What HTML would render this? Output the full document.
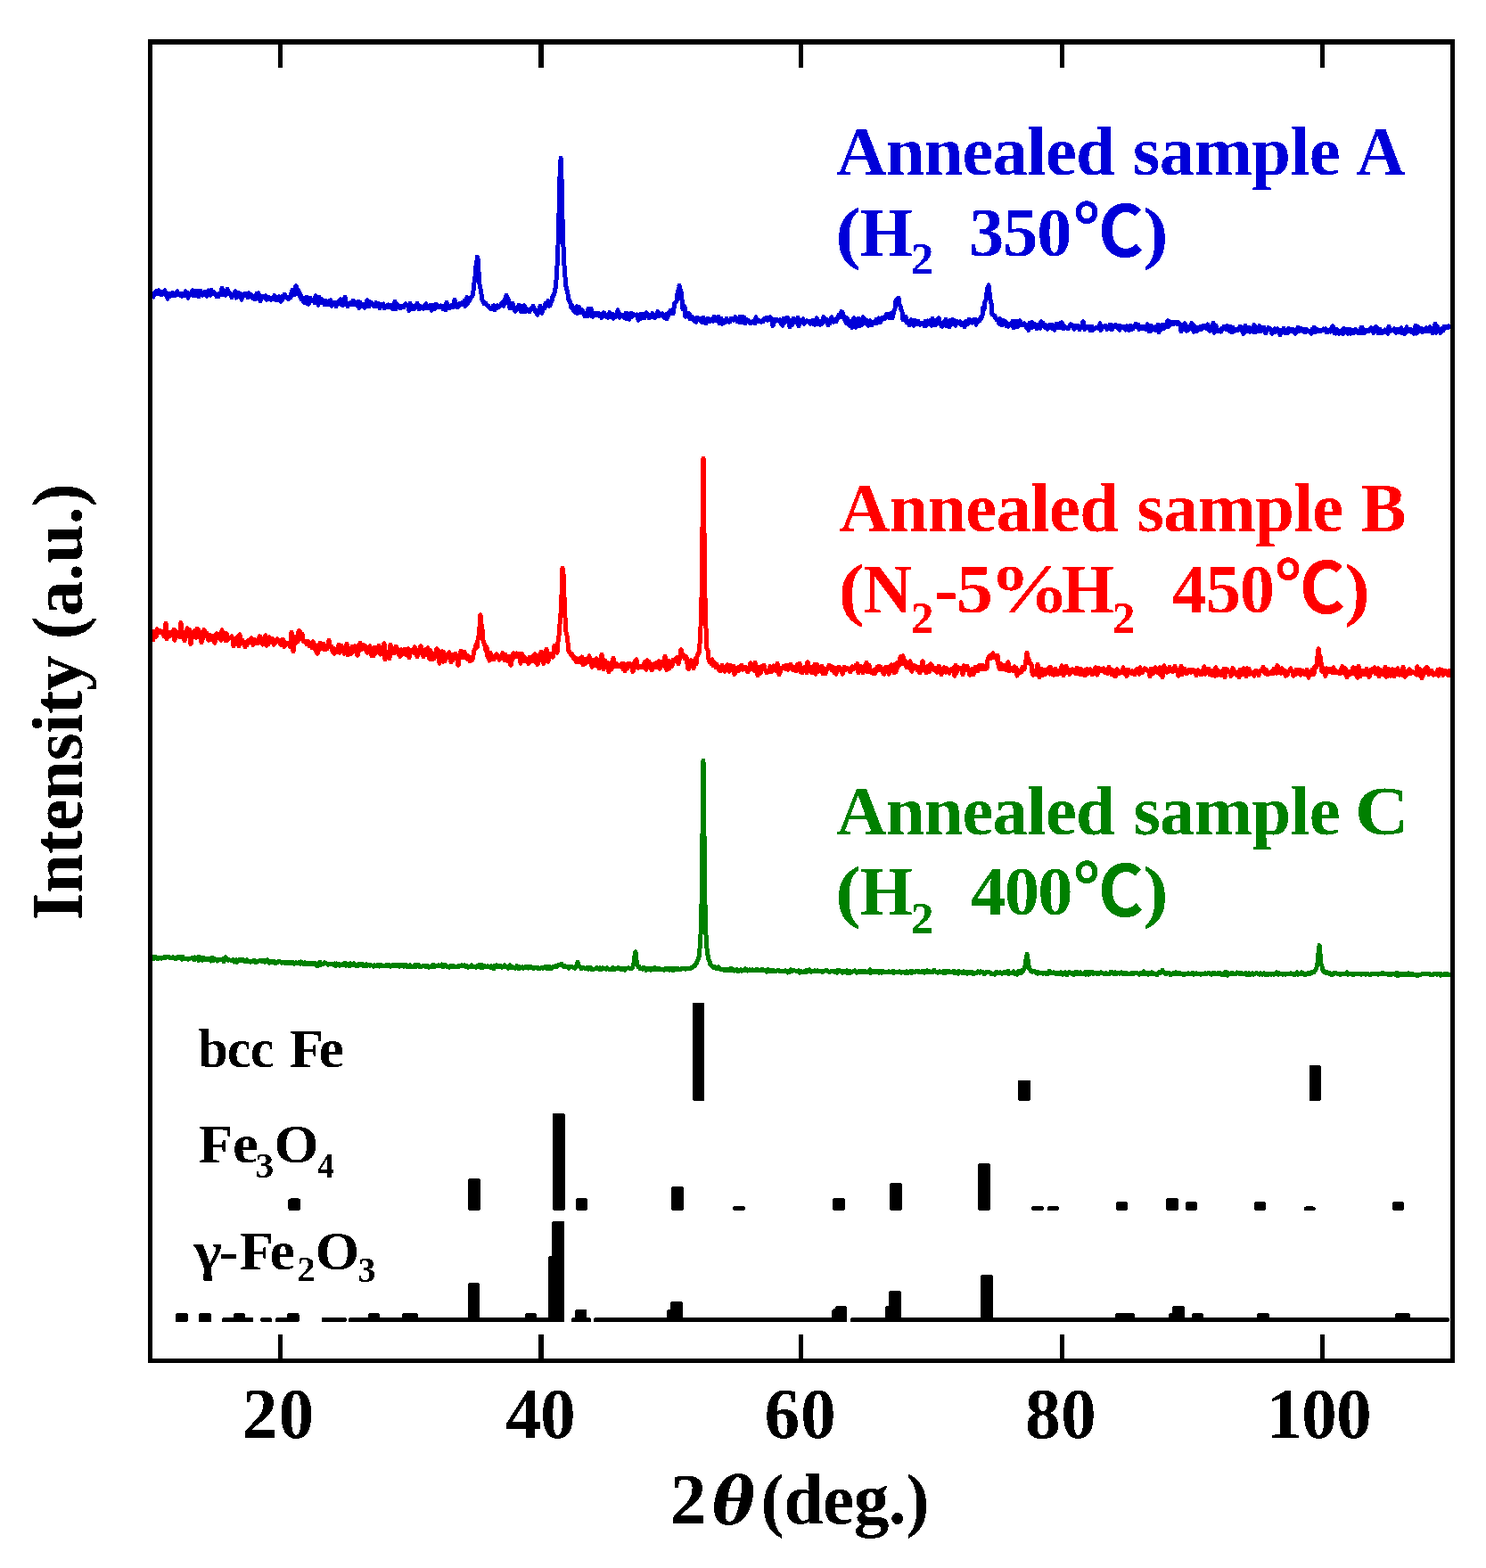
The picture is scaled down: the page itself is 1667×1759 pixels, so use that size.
<!DOCTYPE html>
<html lang="en"><head><meta charset="utf-8"><title>XRD patterns of annealed samples</title>
<style>html,body{margin:0;padding:0;background:#fff}svg{display:block}text{font-family:"Liberation Serif","Noto Sans CJK JP",serif;font-weight:bold}.th{font-family:"DejaVu Serif",serif;font-style:italic}.c{fill:none;stroke-width:5;stroke-linejoin:round;shape-rendering:crispEdges}</style></head><body>
<svg width="1667" height="1759" viewBox="0 0 1667 1759">
<defs><filter id="bw" filterUnits="userSpaceOnUse" x="0" y="0" width="1667" height="1759" color-interpolation-filters="sRGB"><feComponentTransfer><feFuncA type="discrete" tableValues="0 1"/></feComponentTransfer></filter></defs>
<rect width="1667" height="1759" fill="#fff"/>
<path class="c" d="M171.0,332.6l1,0.4l1,-3.4l1,-2l1,-0.7l1,2.6l1,-2.5l1,-1l1,3.9l1,-0.1l1,1l1,-3.5l1,2.2l1,-0.2l1,-3.4l1,4.9l1,-0.6l1,5l1,-5.2l1,-0.9l1,3.3l1,-2.5l1,1.7l1,-3l1,1.4l1,1.9l1,-0.8l1,-1.3l1,-2.9l1,3.6l1,-0.9l1,1.6l1,-1.2l1,2.1l1,-2.8l1,0.6l1,1.2l1,-4.2l1,1.6l1,-0.2l1,5.9l1,-5l1,1.8l1,-0.1l1,-2.1l1,-3.1l1,6.1l1,-3.3l1,2.7l1,-4.9l1,2.1l1,4.1l1,0.4l1,-6.6l1,0l1,3l1,1.9l1,-1.4l1,0.4l1,-3.1l1,3.8l1,1.2l1,-3.7l1,-2.4l1,1.6l1,3.7l1,-6l1,3.9l1,-2.1l1,2l1,-0.2l1,0.6l1,3.5l1,-2.6l1,2.3l1,-3.4l1,-0.8l1,2.2l1,-7.6l1,6.7l1,0.6l1,-3.3l1,4.2l1,-2.4l1,-4.5l1,5.5l1,-1.8l1,1.2l1,1l1,3.4l1,-2.7l1,-0.2l1,1.1l1,-5.2l1,7.4l1,-5.5l1,3.7l1,-3.7l1,0.5l1,1.4l1,5.6l1,-2.8l1,-3l1,0.8l1,-2l1,2.8l1,-1.2l1,3.1l1,-4.9l1,2.6l1,-1.2l1,0.4l1,3.5l1,-1.3l1,1.1l1,1.6l1,-0.1l1,-5.9l1,4.6l1,-5.4l1,4.1l1,4.8l1,-4.9l1,-0.4l1,1.4l1,-0.3l1,0.1l1,-1.8l1,4.4l1,-0.4l1,-2.5l1,1.3l1,0.8l1,1l1,-1.5l1,0.8l1,-2.3l1,-1.9l1,1.4l1,3.7l1,-0.1l1,-2l1,-1.7l1,2.1l1,3.2l1,-0.7l1,-4.9l1,1.4l1,-3.5l1,0.6l1,3l1,-0.7l1,1.9l1,0.2l1,-1.7l1,0.2l1,-5.6l1,-2.9l1,2.1l1,3.5l1,-6.7l1,-3.6l1,4.4l1,4.6l1,-3.9l1,6.1l1,-2l1,5.6l1,-0.3l1,-0.5l1,4.6l1,-5.3l1,-0.3l1,6.4l1,-6.2l1,7.5l1,-5.1l1,-2.2l1,2.6l1,0.5l1,0.3l1,-0.8l1,3.2l1,-8l1,4.3l1,0.8l1,5.1l1,-9l1,4l1,-1.8l1,1.3l1,3.2l1,-0.5l1,2.5l1,-4.7l1,2.1l1,2.3l1,-0.6l1,-2.9l1,3.6l1,-4.8l1,6.6l1,-3.9l1,-0.5l1,1l1,1.4l1,2.2l1,-4.4l1,-0.5l1,2.3l1,-3.4l1,-1.9l1,6l1,-2.8l1,3.6l1,-5l1,-4.4l1,7.6l1,-0.3l1,3.5l1,-2.5l1,-0.5l1,0.7l1,-2.2l1,1.1l1,-3.3l1,4.5l1,-3.1l1,0.9l1,2.7l1,0.6l1,-4.5l1,7.2l1,-6.2l1,3.5l1,0.3l1,-1.7l1,-0.1l1,4l1,-2.2l1,-1l1,-5.3l1,2.6l1,4.6l1,-2.3l1,-2.7l1,0.8l1,0.9l1,2.4l1,-0.7l1,1.5l1,-4.3l1,4.4l1,-3.5l1,0.5l1,4.9l1,-3.9l1,-0.5l1,-0.1l1,-0.4l1,4.7l1,-0.4l1,-1.5l1,-1.3l1,2.1l1,-2.6l1,1.3l1,-0.1l1,-0.7l1,3.8l1,0.3l1,-1l1,-7.6l1,8.9l1,-2.6l1,-2.7l1,1l1,2.8l1,0.2l1,-0.8l1,-1.6l1,-0.2l1,1.9l1,-2.1l1,-1.9l1,0.7l1,1.2l1,1.1l1,4.7l1,-8.6l1,4.4l1,-1.3l1,1l1,2.5l1,-0.2l1,-3.3l1,-0.9l1,-1.9l1,3.1l1,3.2l1,-3.6l1,2.4l1,0l1,-0.7l1,1.6l1,-2.8l1,-1.7l1,-0.8l1,5l1,-3l1,0.1l1,2.7l1,-3.8l1,6.1l1,-2.7l1,-2.8l1,-0.2l1,4.1l1,-5.4l1,1.3l1,1.5l1,0.5l1,-0.5l1,0.9l1,-1.8l1,0.6l1,3.2l1,-1.4l1,-2.7l1,5.1l1,-8.8l1,4.9l1,1.3l1,0.7l1,-2.1l1,-1.2l1,2.2l1,-2l1,1.5l1,-8.1l1,7.5l1,-3l1,3.9l1,-0.7l1,-0.4l1,-3.1l1,1.6l1,-2.3l1,0.8l1,-1.2l1,-2.2l1,6.4l1,-3.2l1,-6.8l1,6.8l1,-5.8l1,2.1l1,-1.9l1,-1.6l1,-1l1,-5.7l1,-9.5l1,-6.9l1,-12.1l1,-5.3l0.2,-4.5l0.8,1.8l1,14.7l1,14.6l1,4.9l1,6l1,6.7l1,1.2l1,2.4l1,-0.7l1,0.5l1,2l1,1l1,0.1l1,2.2l1,0.6l1,0.2l1,0.1l1,-3.1l1,-0.4l1,4.7l1,-1.8l1,0.2l1,-3.2l1,2.1l1,-1.2l1,-0.9l1,0l1,-2.9l1,2.5l1,0.7l1,-6.9l1,-0.8l1,-4.1l0,2.5l1,5.8l1,-4.6l1,4.9l1,5.8l1,-1.3l1,0.3l1,-4.5l1,4.9l1,2.8l1,1.5l1,-1.8l1,-2.7l1,-0.2l1,-2.6l1,1.8l1,5.2l1,-2.9l1,-2.9l1,6.3l1,-7l1,7l1,-3.7l1,1.6l1,0.8l1,-0.9l1,2.4l1,-2.9l1,-0.8l1,-0.8l1,-1.9l1,1.8l1,3.9l1,-0.4l1,1.3l1,3.1l1,-4.9l1,-0.6l1,-4.4l1,2.3l1,5.6l1,-4.2l1,-1.9l1,0.7l1,-5.7l1,2l1,-1.8l1,-2.7l1,5.9l1,-0.8l1,-4.2l1,-0.7l1,-5.7l1,0.1l1,-3.8l1,-4.6l1,-9.2l1,-16.5l1,-23.3l1,-35l1,-41.2l1,-19.8l0,-1.4l1,22.9l1,45.8l1,31.1l1,20.5l1,13.7l1,10l1,4.1l1,4.7l1,6.6l1,0.5l1,2.9l1,5.2l1,-2l1,4.7l1,-2.1l1,4.4l1,-1.8l1,-4.6l1,7.6l1,-2.9l1,-3.7l1,5.2l1,0.5l1,-3.1l1,1.9l1,3l1,2.3l1,-0.4l1,0.4l1,0l1,-8.4l1,4.4l1,2.3l1,-6.6l1,8.3l1,0.4l1,-3.7l1,1l1,-1.1l1,2.3l1,0l1,0.3l1,-2.3l1,3.4l1,-1.7l1,3.1l1,-1.5l1,-4.1l1,0.1l1,3.6l1,-1.3l1,2.3l1,0.9l1,-1.8l1,-4l1,1.2l1,4.2l1,-3.8l1,5.1l1,-2.8l1,1.5l1,-3.3l1,1.9l1,-6.7l1,6.5l1,1.9l1,-3.5l1,0.2l1,1.9l1,0.3l1,-2.1l1,3.5l1,-5.4l1,6.5l1,-5.9l1,1.4l1,5.1l1,-5.5l1,-1.5l1,4.1l1,-2.3l1,-0.5l1,1l1,-0.1l1,-0.5l1,-0.1l1,6.2l1,-5.3l1,3.9l1,-5.6l1,4.6l1,-4.2l1,1.8l1,2.6l1,-2.7l1,-3.4l1,3.3l1,1l1,1.7l1,-3.7l1,1.6l1,0.8l1,-4l1,3.6l1,-1.7l1,3l1,-1.4l1,-0.1l1,-5.4l1,5.4l1,-0.7l1,-1.4l1,0.9l1,-1.9l1,3.3l1,1l1,-0.4l1,-2.8l1,4.9l1,-2.3l1,-4.7l1,1.5l1,-4.1l1,2.7l1,0.9l1,-0.2l1,-6l1,-6l1,-0.1l1,-1.6l1,-9l1,-3l1,-3.4l0,-2l1,4l1,3l1,9l1,10.3l1,-3l1,-0.1l1,11.6l1,-2.3l1,-1.1l1,1.1l1,-1.4l1,6l1,-0.7l1,-1.5l1,0.8l1,0.3l1,3.7l1,-2.7l1,3.8l1,-5.1l1,0.7l1,0.4l1,0l1,1.1l1,2.7l1,0.5l1,-5.3l1,5.6l1,-2.7l1,3.5l1,-4l1,-1.6l1,3.9l1,-0.3l1,-2.5l1,1.1l1,0.3l1,0.5l1,-4.8l1,1.3l1,2.9l1,0.5l1,-1.8l1,-2.8l1,7.3l1,-3.9l1,-1.7l1,6.2l1,-1l1,-0.2l1,-0.5l1,-0.6l1,-3.6l1,2.4l1,0.7l1,0.7l1,-0.3l1,-3.5l1,1l1,0.6l1,0.4l1,-1.6l1,-2.2l1,1.4l1,3.6l1,-0.7l1,1.4l1,-5.8l1,3.5l1,3l1,-6.6l1,2l1,-1.3l1,6.7l1,-2.7l1,-1.4l1,1.7l1,-0.6l1,2.4l1,0.6l1,-0.6l1,-1.3l1,1l1,0.1l1,0.9l1,-7l1,5.1l1,-0.6l1,0.2l1,-1l1,0.4l1,1.4l1,-0.7l1,-0.1l1,-2.8l1,-0.5l1,1.2l1,-2.4l1,3l1,-0.8l1,-2.2l1,-0.3l1,3.5l1,-0.3l1,6.5l1,-3.1l1,-3.8l1,0.7l1,-1.2l1,0.5l1,1.1l1,0.7l1,-1.4l1,3.4l1,-0.4l1,3.1l1,-7.6l1,4.7l1,-2.5l1,-2.9l1,3.1l1,-3.1l1,3.8l1,6.4l1,-3.3l1,1.2l1,-1.4l1,-6.4l1,4.6l1,-0.6l1,0.6l1,-3.4l1,-2.2l1,9.6l1,-2.1l1,-2.1l1,-1.9l1,1.6l1,-3.3l1,5.2l1,-1.8l1,-0.7l1,-0.7l1,0.9l1,0.5l1,-1.2l1,3.2l1,-1.8l1,-0.7l1,-1.7l1,4.9l1,0.2l1,-1.4l1,-6l1,3.6l1,3.1l1,-2.2l1,2.9l1,-4l1,2.9l1,-0.7l1,-6.9l1,4.8l1,0.3l1,-0.9l1,-0.7l1,5.8l1,-4l1,2l1,-5.1l1,-1.8l1,3.5l1,1.8l1,-2.9l1,2.5l1,0l1,-3.9l1,-0.3l1,-3.3l1,2.2l1,-0.2l0.8,-4.6l0.2,-1.2l1,0.8l1,3l1,4.7l1,-2.3l1,6.4l1,-5.5l1,3.4l1,3.6l1,1.4l1,-4.9l1,3l1,4.3l1,-3.1l1,-7.7l1,5.9l1,4.9l1,-8.2l1,4.9l1,-6.9l1,8.6l1,-5.6l1,3.9l1,0.2l1,-8.6l1,3.2l1,4.1l1,-4.4l1,3.5l1,-2.2l1,5.3l1,-4.4l1,-1l1,3.6l1,1.2l1,-3.3l1,0.9l1,0.4l1,-2.5l1,-1.8l1,3.8l1,-2.4l1,-2.7l1,4.8l1,-1.5l1,-1.3l1,-2.8l1,0.5l1,1l1,-1.1l1,-3.7l1,-0.6l1,2.8l1,-0.3l1,1.7l1,-4.7l1,4.2l1,0.8l1,-3.9l1,-4.8l1,-1.8l1,-9.1l1,-1.3l1,4.4l0.1,-4.8l0.9,-1.4l1,8l1,0.9l1,4.4l1,2.3l1,9.3l1,-3.3l1,2.2l1,-2.6l1,6.7l1,-1.4l1,1.6l1,2.8l1,-3.2l1,-2.9l1,0.5l1,2.7l1,3l1,-5.8l1,2.3l1,0.3l1,2l1,-3.6l1,2.9l1,1.1l1,-1.9l1,-0.1l1,1.7l1,-0.1l1,1.6l1,-5.4l1,5.4l1,-3.4l1,-2.1l1,1.4l1,-1.6l1,2.4l1,2.9l1,-7.6l1,2.4l1,4.6l1,-2.5l1,2.5l1,-4.9l1,3l1,-6l1,4.1l1,3.7l1,1.1l1,1l1,-4l1,-1.9l1,1.2l1,-3.6l1,7.6l1,-0.4l1,-4.9l1,6.3l1,-7.4l1,4.5l1,-3.2l1,-2.2l1,4.9l1,-3.6l1,5.4l1,-4.9l1,2.3l1,-1.3l1,1.4l1,-1.8l1,3.3l1,-0.4l1,-1.3l1,-0.5l1,4.9l1,-6.3l1,0.6l1,2.8l1,-1.9l1,-3.8l1,3.3l1,-0.6l1,-1.6l1,2.6l1,-3.2l1,1.8l1,-2.3l1,5.9l1,-4.7l1,1.1l1,-1l1,0.1l1,-3.2l1,0.5l1,-3.5l1,-8.9l1,2.4l1,-9l1,-1.4l1,-8.4l1,-5.5l0.3,0.6l0.7,-3.5l1,7.8l1,8.8l1,3.9l1,12.7l1,0l1,1.4l1,-0.2l1,3l1,1.3l1,0.4l1,1.6l1,2.6l1,-5.5l1,5l1,2.3l1,-5.5l1,3l1,-0.2l1,-1.6l1,5l1,-2.8l1,3.5l1,-1.6l1,-1.5l1,1.4l1,-1.4l1,-2.9l1,7.2l1,-2.4l1,1.9l1,-6.8l1,6.7l1,-0.5l1,-1.9l1,-4.8l1,5.2l1,-1.7l1,1.1l1,0.6l1,-2.2l1,1.9l1,0.3l1,3.4l1,-3.5l1,5.7l1,-8.2l1,2.5l1,3.2l1,-6.5l1,5.1l1,-0.4l1,-2.3l1,0.8l1,4.2l1,-4.6l1,1.7l1,0.4l1,1.9l1,-7.6l1,1.4l1,0.3l1,2.5l1,2.1l1,0.6l1,-2.6l1,4.2l1,-3.6l1,1.8l1,-3.4l1,3.7l1,-3.5l1,4.4l1,-0.7l1,2.4l1,-5.3l1,-1.7l1,4.6l1,-1.1l1,-2l1,-1.8l1,5l1,-6.4l1,3.5l1,3.6l1,-3.1l1,1.7l1,0.1l1,0.3l1,1.1l1,-0.9l1,-2.4l1,-1.9l1,2.2l1,-0.9l1,2.5l1,2l1,-1l1,-3.4l1,2.1l1,-0.5l1,-1l1,4.1l1,-1.6l1,-0.5l1,-3.7l1,-3.2l1,4.4l1,4.4l1,-3.1l1,0.4l1,-0.5l1,1.7l1,-1.1l1,4l1,-4.2l1,-0.3l1,3.9l1,-1.5l1,-0.1l1,-0.4l1,-1.2l1,0.8l1,0.5l1,-0.9l1,-4.6l1,7.6l1,-4.3l1,-0.2l1,0.6l1,-0.9l1,-0.3l1,1.8l1,2.3l1,-2.8l1,1.8l1,-4.2l1,4.9l1,-4.4l1,4.3l1,-3.3l1,0.3l1,-1.5l1,0l1,2.4l1,-1.7l1,1.7l1,3.1l1,-4.5l1,1.2l1,0.5l1,-1.2l1,1.4l1,0.6l1,1.9l1,-4.1l1,1.2l1,0.1l1,3.2l1,-5.1l1,2.7l1,1.4l1,-0.5l1,-2.9l1,-0.8l1,-1.9l1,3.1l1,0.6l1,-2.9l1,5.4l1,-1.5l1,-1l1,-0.6l1,2.3l1,-1.8l1,1.8l1,-2.2l1,3.5l1,-6.2l1,1.3l1,6.6l1,-1.8l1,1.4l1,-5.7l1,3.5l1,0.6l1,-0.2l1,-2.6l1,3.8l1,-2.5l1,-4l1,8.6l1,-5.5l1,2.5l1,-4.6l1,-0.8l1,4l1,-0.3l1,-3.9l1,1.9l1,-4l1,-2.2l1,6.6l1,-5.8l1,3.5l1,-0.1l1,-2.3l1,2.1l1,-2.7l1,0.1l1,0l1,1.7l1,0.7l1,-2.2l1,2.8l1,-0.2l1,7.9l1,-3.3l1,-4.3l1,3.4l1,-5.1l1,4.3l1,4.2l1,-3.8l1,2.9l1,-3.7l1,2l1,-0.2l1,-5.8l1,3.3l1,6.2l1,-6.2l1,4.7l1,1.3l1,-4.1l1,2.5l1,-1.4l1,-2.2l1,2.7l1,-0.3l1,-3.2l1,1.2l1,-2l1,2.3l1,0.7l1,-2.1l1,-2l1,5.8l1,1.4l1,-5l1,2.3l1,-1.7l1,-4.4l1,10.8l1,-4.1l1,-3.8l1,6.1l1,-1.2l1,1.6l1,-1.5l1,-0.4l1,2.1l1,-3.8l1,1.2l1,-3l1,0l1,3l1,0.1l1,-4l1,4.4l1,1.4l1,-4.9l1,2l1,4.6l1,-5.6l1,3.2l1,0.5l1,-1.3l1,-0.1l1,1l1,-0.6l1,-0.2l1,-3.5l1,3.7l1,-2.2l1,5l1,1.6l1,-2.3l1,-7l1,6.8l1,-1.9l1,-2.5l1,-0.3l1,5l1,-3.7l1,1.3l1,0.3l1,1.9l1,-7.6l1,8.3l1,-4.3l1,0.9l1,2.2l1,-0.5l1,-5.6l1,6.2l1,-1.5l1,-1.9l1,1l1,-2.1l1,5.1l1,1.4l1,-4.4l1,0.4l1,-2.1l1,1.6l1,-0.6l1,2.1l1,3.6l1,-1.4l1,-0.2l1,-4l1,3.7l1,-3.2l1,-0.3l1,3.3l1,-1.7l1,5.3l1,-4.7l1,-1l1,2.2l1,-3.9l1,3.8l1,1.7l1,-3.4l1,-0.7l1,3.3l1,-4.6l1,3.1l1,-1.8l1,1.6l1,-2.2l1,2.8l1,0l1,2.3l1,-4.2l1,1.6l1,-4.4l1,2l1,2.1l1,-3.3l1,2.6l1,-1.6l1,2.7l1,0.3l1,-2.2l1,2.3l1,-2.4l1,1.3l1,0.9l1,0l1,0.1l1,2.2l1,-4.7l1,1l1,-3.3l1,5.4l1,-4l1,1.1l1,0.1l1,1.9l1,-1.4l1,0l1,0.7l1,-0.8l1,0.6l1,-1.9l1,0.8l1,-1.3l1,4.1l1,0.1l1,-0.4l1,-0.7l1,-1.9l1,2.3l1,-4.2l1,-1.9l1,2.6l1,5.4l1,-2.5l1,2.6l1,-4.5l1,3.4l1,1.1l1,-1.2l1,-1.4l1,1.6l1,-3.1l1,4.5l1,-5.9l1,0.8l1,1.6l1,-1.6l1,5l1,-2.1l1,-2.9l1,4.9l1,-0.7l1,-3.5l1,3.9l1,-0.7l1,-3.4l1,-0.1l1,1.7l1,1.7l1,0.8l1,-0.1l1,-4l1,-2.6l1,0.2l1,6.4l1,-1l1,0.3l1,-2.4l1,0.2l1,0.8l1,-0.1l1,-0.7l1,-2.2l1,-0.8l1,3.1l1,-0.6l1,3.1l1,-5l1,-1.8l1,0l1,3.9l1,3.4l1,-4.1l1,-0.7l1,2.2l1,2.3l1,-0.9l1,-0.4l1,0.1l1,-2.5l1,0.8l1,0.6l1,2.8l1,-8l1,3.3l1,1.8l1,-1.2l1,0.2l1,-0.3l1,-1.4l1,3l1,1.5l1,-3.3l1,1.6l1,1.3l1,-3.5l1,1.1l1,-2.4l1,5.8l1,0.2l1,-3.8l1,4.4l1,-2.3l1,-5.4l1,4.6l1,-0.5l1,0.5l1,0.4l1,-2.3l1,3.1l1,-1.6l1,3.1l1,-4l1,-4.8l1,8.8l1,-2.7l1,-4.8l1,2.4l1,-0.4l1,3.4l1,-3.1l1,3.6l1,-3.4l1,2.9l1,-3.1l1,-1.2l1,3.5l1,-1.6l1,1.5l1,-4.4l1,1.2l1,1.3l1,4.6l1,-3.2l1,-4.2l1,-3.1l1,10l1,-3.1l1,-3.3l1,4.5l1,-0.4l1,2.5l1,-3.9l1,-1.5l1,2.6l1,-4.4l1,1.7l1,-1.2l1,0.8l1,-1.5l1,-0.4l1,0.6l1,3" stroke="#0000d8"/>
<path class="c" d="M171.0,720.3l1,-11.9l1,4.3l1,-0.9l1,2.8l1,-8.9l1,4l1,-1.3l1,-1.2l1,1l1,1.4l1,0.9l1,-2.4l1,5.4l1,-3.8l1,-10.5l1,17.5l1,-6.2l1,-1.4l1,4.1l1,-0.1l1,-0.6l1,-3.6l1,4.3l1,-6.8l1,11.9l1,-10.7l1,4.2l1,1l1,0.8l1,-1.7l1,2.9l1,-16.3l1,13.6l1,-0.2l1,-1l1,7.9l1,-9.9l1,3.6l1,-7.7l1,9.2l1,-7.4l1,0.2l1,15.7l1,-6.5l1,-2.8l1,0.8l1,-6.4l1,1.6l1,6l1,-10.1l1,9.6l1,-8l1,7.5l1,-4.8l1,11.5l1,-2.9l1,-6.1l1,-5.4l1,4.5l1,3l1,-3.7l1,5.1l1,2.9l1,-4.1l1,-1.4l1,4.9l1,-4.2l1,4.6l1,-4.6l1,7.8l1,-7.5l1,-3.1l1,4.7l1,-2.8l1,-1.2l1,3.3l1,3.6l1,-11.5l1,8.5l1,-0.4l1,0.1l1,3.9l1,-8.4l1,7.9l1,-3.5l1,1.5l1,-1.3l1,-0.3l1,-0.8l1,3.8l1,6.8l1,-4.1l1,-0.7l1,-1.1l1,-4l1,4.3l1,5.9l1,-13.2l1,8.5l1,0.8l1,-2.9l1,2.1l1,2.5l1,3.3l1,-3.5l1,1.4l1,-5.1l1,2l1,-2.5l1,0.6l1,-3l1,4.6l1,3.1l1,-6.2l1,1.7l1,1.5l1,-2.3l1,3.7l1,-2.7l1,-5.5l1,0.6l1,7l1,-0.3l1,1.9l1,-3.3l1,-0.1l1,-6.9l1,11.7l1,-9l1,7.7l1,-8.5l1,2l1,3.2l1,-2.1l1,-1l1,6.4l1,-0.8l1,-1l1,-2.8l1,-1.8l1,1.5l1,-0.1l1,2l1,3.2l1,-3.6l1,-2.3l1,0.7l1,7.4l1,-4.3l1,0.3l1,0.2l1,1.2l1,-1.8l1,4l1,-1.6l1,-14.3l1,10.1l1,11.6l1,-16.9l1,4.7l1,2.7l1,-5.5l1,3.8l1,-11.5l1,-0.7l1,4.4l1,-1l1,0.3l1,8l1,0.3l1,0.2l1,-0.6l1,3.3l1,-0.9l1,-1.8l1,5.2l1,-0.2l1,-0.8l1,2.6l1,-6.7l1,4l1,-1.3l1,7.3l1,-2.9l1,6.3l1,-1.9l1,-7.3l1,-2.6l1,6.2l1,-2.8l1,0.6l1,-3.3l1,6.5l1,-1.5l1,1l1,-0.2l1,-4.5l1,-5l1,7.6l1,-1.2l1,0.5l1,5.8l1,-3.9l1,6.2l1,-4.9l1,2l1,-0.7l1,1.2l1,-7.8l1,9l1,-3.7l1,-4.1l1,6.1l1,-1l1,3.6l1,-2.1l1,-1.3l1,-7.6l1,12.6l1,-0.7l1,-2.6l1,-1.2l1,2.9l1,-7.9l1,6l1,-2.5l1,-3.9l1,5.2l1,0l1,5.2l1,-2.9l1,-9.6l1,-1.3l1,7.2l1,-0.5l1,-2.7l1,-1.9l1,4.8l1,-3.6l1,1.8l1,5.9l1,-2.4l1,-3.7l1,-1.3l1,3.5l1,7.3l1,-8.4l1,8.5l1,-9.5l1,2.2l1,3.5l1,-5.5l1,3.1l1,-5.3l1,7.7l1,1.9l1,-6.8l1,3.2l1,-2.2l1,-6.6l1,18.5l1,-7.9l1,0.7l1,-1.6l1,-0.8l1,8.3l1,-15.7l1,5.7l1,-0.4l1,0.9l1,3.4l1,-5.3l1,-2.2l1,0.8l1,5.9l1,1.9l1,-0.5l1,3.1l1,-7.8l1,5.7l1,-1l1,-3.1l1,-2l1,6.2l1,-5.7l1,1.5l1,-2.4l1,10.3l1,-6.6l1,-1.6l1,1.1l1,0.2l1,1.3l1,-6.6l1,2.1l1,6.4l1,2.2l1,-7.6l1,4.3l1,-2.5l1,-6.2l1,7.4l1,-2.7l1,7.4l1,-4l1,0.8l1,-5.2l1,6.1l1,-7.6l1,8.1l1,4.4l1,-9.5l1,7.8l1,2.2l1,-5.9l1,5l1,-3.7l1,-2l1,-5.5l1,3.5l1,-1.4l1,14.5l1,-7.8l1,-1.5l1,-4.2l1,11.4l1,-10.5l1,9.9l1,-1.4l1,-3.6l1,-2.6l1,2.3l1,-4.6l1,7.4l1,3.9l1,-2.8l1,0.7l1,-6.4l1,3.7l1,-4.9l1,2.2l1,4.3l1,6.6l1,-9l1,-0.1l1,-7.1l1,7.6l1,-4l1,-1.8l1,-0.4l1,6l1,-2.1l1,3.8l1,-3.5l1,0.7l1,5.1l1,-2.7l1,-0.6l1,2l1,-5.4l1,-5.6l1,-0.9l1,-5.2l1,3.4l1,-8.4l1,-5l1,-9.5l1,-14.1l0.3,2.5l0.7,7.6l1,5.8l1,13.3l1,3.1l1,2l1,5.8l1,-3.9l1,11.1l1,-3.4l1,7.6l1,-8.8l1,5.5l1,1.2l1,-1.7l1,2.4l1,-3.9l1,-1l1,-1.1l1,3.2l1,-0.7l1,3.9l1,-2.1l1,-1l1,-0.3l1,-4.2l1,5.5l1,2.8l1,-6.5l1,3.8l1,3.2l1,-5.3l1,2.9l1,-2.6l1,10l1,-4.5l1,-1.6l1,-7.6l1,4.3l1,-3.2l1,2.1l1,-2.8l1,3.4l1,-2.6l1,4.5l1,5.9l1,-11l1,0.5l1,6.9l1,1.3l1,-4.2l1,3.7l1,-0.5l1,0.5l1,3.1l1,-7.4l1,4.8l1,-1.7l1,-3.3l1,4.4l1,-6.7l1,-0.7l1,9.4l1,-8l1,10.2l1,-2.4l1,-5.8l1,-1.4l1,-4.9l1,7.7l1,-5.8l1,11.6l1,-12.1l1,6.2l1,-10.5l1,8.4l1,5.8l1,-6.9l1,-1.9l1,0.7l1,2.3l1,1l1,-5.3l1,-8.1l1,6.8l1,-0.1l1,1.6l1,-12.4l1,-6.8l1,-13l1,-11.9l1,-20.3l1,-30.9l0.3,2.1l0.7,4l1,26.3l1,23.3l1,16.3l1,4l1,7.9l1,10.1l1,-0.1l1,3l1,0.7l1,-0.7l1,3.4l1,1.3l1,-1.1l1,4.5l1,-3.2l1,3.8l1,-2.8l1,3l1,-4.8l1,0.8l1,-1.9l1,8.8l1,-2.3l1,-0.9l1,1.7l1,-5.1l1,3.6l1,-2.1l1,-4.8l1,6l1,-2.1l1,8.4l1,-7.7l1,0.6l1,5.8l1,-3.4l1,-4.7l1,5.7l1,-3.4l1,8.9l1,-9.9l1,1.3l1,-7.2l1,7.6l1,9.2l1,-7.1l1,-2.9l1,4.5l1,-2l1,1l1,9.2l1,-1.7l1,-1.4l1,0.3l1,-9.2l1,-3.7l1,9.8l1,-1.2l1,-1.2l1,-0.5l1,3l1,-0.5l1,-1l1,0.9l1,-2.5l1,-0.5l1,6.3l1,-5.8l1,8.1l1,-4.8l1,-2.1l1,3.8l1,-5.7l1,1.1l1,-0.5l1,1.2l1,2.5l1,5.1l1,-5.6l1,-5.6l1,0.9l1,-3.5l1,9.1l1,0.5l1,-1.9l1,0.1l1,0.6l1,-0.3l1,0.8l1,-1.5l1,-4.2l1,6.8l1,1.5l1,-10.6l1,5l1,-3.2l1,5.9l1,-2.8l1,6.1l1,-1.1l1,-5.6l1,-0.1l1,-0.3l1,4.1l1,-5.4l1,4.9l1,-6.5l1,8.6l1,-2l1,-5.8l1,1.3l1,3.2l1,0.5l1,-11.2l1,10.8l1,4.5l1,-7l1,-3.3l1,8.9l1,-3.6l1,-0.4l1,1.2l1,-6.9l1,1.5l1,-2.2l1,-0.8l1,1.9l1,-3.8l1,7.9l1,-5.6l1,-0.6l1,-10.1l1,4.5l1,0.7l1,2.4l1,2.7l1,-2.7l1,1l1,7.7l1,5.5l1,0l1,-7.9l1,-1.5l1,3.5l1,0.9l1,4.2l1,-7.5l1,-2.6l1,5.1l1,-8.1l1,-3.4l1,0.1l1,-10.9l1,-19.2l1,-32.2l1,-78.4l1,-78.2l0,0.8l1,81.1l1,74.7l1,34.3l1,22.2l1,1.6l1,10.9l1,2.6l1,-1l1,3.3l1,-4.9l1,6.9l1,-3.8l1,1.1l1,4.3l1,-3.1l1,3.3l1,1.2l1,2.3l1,-2l1,2.3l1,-6.1l1,1.5l1,3.6l1,1.9l1,-2.5l1,-3.3l1,-1.8l1,0.5l1,7.2l1,-7.2l1,2.6l1,3l1,-0.6l1,-3.9l1,9.2l1,-6.2l1,0.4l1,1.9l1,-3.8l1,3.4l1,-2.8l1,-2.5l1,-0.3l1,4.6l1,-0.9l1,-0.9l1,-1l1,0.7l1,3.6l1,1l1,-4.5l1,1.7l1,-7.2l1,2.5l1,1.5l1,-0.7l1,5.4l1,-9.4l1,8.8l1,0.6l1,5.2l1,-9.1l1,3.2l1,3.5l1,-1.9l1,-6.3l1,2l1,-2.7l1,4.1l1,2.1l1,2.3l1,-2.7l1,1.1l1,0.6l1,-6.3l1,5l1,1l1,-3.9l1,-2.6l1,3.8l1,0l1,1.8l1,-8.3l1,4.7l1,8l1,-2.4l1,-4.8l1,-0.5l1,0.1l1,-2.3l1,1.7l1,1.4l1,-3.9l1,3.8l1,1.1l1,-5.2l1,2.8l1,-3.6l1,5.3l1,0.6l1,-2.5l1,2l1,1.6l1,0.4l1,-6.7l1,3.4l1,-3.7l1,-1.5l1,9.6l1,-0.8l1,1.7l1,-1.7l1,-4.2l1,2.4l1,-2.5l1,6.3l1,-12.3l1,9.1l1,-3.1l1,4.2l1,1.6l1,-6.1l1,6.6l1,-0.9l1,-8.8l1,11.2l1,-9.9l1,-0.6l1,7.6l1,-5.5l1,3.2l1,-0.9l1,-3.2l1,8.6l1,-0.4l1,-4.6l1,4.9l1,-5.2l1,0.9l1,-1.9l1,-3.3l1,3.2l1,-2l1,4.5l1,-0.9l1,-2.3l1,6.1l1,-3l1,4.7l1,-7.2l1,0l1,-1.1l1,3.1l1,-1.3l1,0.7l1,5.6l1,-3.1l1,-4.7l1,3.4l1,-2.2l1,-0.1l1,0.3l1,0.9l1,1.9l1,1.2l1,-3.2l1,-2.8l1,2.7l1,-0.6l1,-0.3l1,-3l1,3.5l1,-5.5l1,10.1l1,-1.8l1,0.1l1,-5.5l1,3.9l1,3.3l1,-4.8l1,-2.8l1,3.1l1,-6.9l1,10.3l1,-1.6l1,-5.8l1,6.7l1,1.4l1,-1.6l1,0.1l1,2.8l1,-4.2l1,3.8l1,-5.2l1,-1.6l1,1.2l1,-2.3l1,4.6l1,-3.5l1,3.4l1,-0.2l1,4.2l1,0.5l1,-7.5l1,1.2l1,-0.1l1,-1.4l1,7.7l1,-1.9l1,-4.8l1,-3.8l1,2.3l1,1.9l1,4.8l1,-9.4l1,8.4l1,-9.8l1,5.1l1,-5.7l1,1.2l1,-7.6l1,8.2l1,-2.7l0.4,-0.2l0.6,-6.6l1,7.6l1,1.6l1,-3.2l1,7.2l1,-1.1l1,-2.6l1,1.5l1,-4.9l1,10.5l1,1l1,-3.6l1,-3.3l1,0.6l1,2.7l1,-1.8l1,3.8l1,-3.6l1,5.7l1,1l1,-5.7l1,-0.7l1,-6.7l1,9.5l1,1.1l1,-4.1l1,6.5l1,-5.6l1,-1.6l1,6.4l1,-1.2l1,-8l1,4.4l1,-1.9l1,3.4l1,1.3l1,-2l1,1.9l1,2.4l1,-3.9l1,-3l1,1l1,5.7l1,2.9l1,-6l1,1.7l1,-3.7l1,0.7l1,4.9l1,-4.7l1,2.2l1,-0.1l1,3.3l1,-2.9l1,-1l1,-0.7l1,-0.8l1,4.9l1,3.6l1,-11.8l1,8.3l1,-6.4l1,1.2l1,0.9l1,-0.4l1,0.2l1,-0.7l1,7.5l1,-10.2l1,2.5l1,-0.4l1,3l1,-4.7l1,4l1,0.3l1,5.8l1,-4.2l1,-2.3l1,0.4l1,5.4l1,-6.2l1,-2l1,0.1l1,0.7l1,3.7l1,-6.1l1,1l1,1.5l1,-3.2l1,4.5l1,-3.8l1,2.2l1,-0.8l1,2.2l1,-0.4l1,-9.6l1,-3l1,-1.5l1,3.1l1,-2l1,-3.3l1,-1l1,5l1,-0.9l1,-0.2l1,3.3l1,-4.5l1,10.3l1,4.4l1,-4.6l1,-0.7l1,6.2l1,-4.7l1,2.5l1,2.1l1,-1.9l1,3l1,-7.9l1,-1.3l1,10.1l1,-0.4l1,-0.8l1,-1.7l1,1.4l1,1.4l1,-4.9l1,4.4l1,-3.2l1,9l1,-5.4l1,-0.4l1,2.2l1,-0.4l1,-0.2l1,-5.5l1,1.7l1,0.8l1,-4.9l1,-5.6l1,-8.4l0.3,1.2l0.7,7l1,-1.3l1,3.7l1,2.7l1,0.1l1,9.5l1,2.3l1,-4l1,-1l1,4.2l1,-1l1,-10.2l1,6.9l1,7.9l1,-8.8l1,-0.9l1,0.3l1,6.8l1,-6.2l1,2.7l1,2.5l1,-3.2l1,-0.4l1,-3.3l1,-0.6l1,7.2l1,-7.4l1,7.4l1,0.5l1,0.8l1,-5.2l1,-2l1,2.9l1,3.7l1,-2.3l1,-0.2l1,-1.9l1,3.3l1,-8.9l1,2.4l1,8.4l1,-3.3l1,0.7l1,-8l1,3.3l1,1.2l1,1.1l1,3.9l1,-5.4l1,2.2l1,-2.6l1,1.5l1,1.8l1,0.2l1,1.7l1,-6.9l1,6.3l1,-1l1,-3.8l1,6.4l1,-6l1,0.9l1,2.7l1,2.8l1,-5.6l1,5.7l1,-3.2l1,-3.6l1,4.6l1,-2.1l1,-2.4l1,1.8l1,4.2l1,-2.7l1,-1.8l1,3.2l1,-6.7l1,6.2l1,2.1l1,-7.6l1,0.2l1,0.7l1,2l1,-1.6l1,2.2l1,-3l1,3.9l1,0.9l1,-0.4l1,-3.1l1,4.3l1,-7.3l1,2.8l1,1.7l1,4.2l1,-5.1l1,3l1,3.2l1,1l1,-0.7l1,-7.7l1,3.2l1,0.8l1,0.5l1,-0.5l1,-1.9l1,0.5l1,-4.3l1,6.3l1,-1.2l1,-2.7l1,7.2l1,-5.4l1,-2l1,3.8l1,-0.5l1,0.7l1,-2.3l1,2.6l1,-1.9l1,3.3l1,-2.7l1,-3.4l1,-0.6l1,4.8l1,1.1l1,-7.2l1,6.2l1,-2l1,1l1,-3.2l1,-1l1,1.6l1,-0.6l1,1.2l1,1.5l1,-0.1l1,5.5l1,-8.5l1,1.5l1,1.6l1,1.6l1,-4.9l1,-1.3l1,5.1l1,0.4l1,0.6l1,0.2l1,-6.5l1,7.8l1,-3.6l1,6.7l1,-7.5l1,-5.3l1,6.2l1,0.9l1,0.4l1,-0.3l1,-2.2l1,-3.4l1,4.4l1,-0.4l1,-1l1,2.1l1,-1l1,-5.2l1,3.6l1,0l1,1.7l1,5.7l1,-5l1,1.8l1,-8l1,9.9l1,-5.2l1,3.2l1,-4.8l1,3.1l1,2.6l1,-2.5l1,0.7l1,-2.9l1,0.1l1,3l1,-1.4l1,1l1,-2.4l1,0.8l1,3.4l1,2l1,-5.4l1,-0.7l1,2.3l1,2.4l1,-1.9l1,2.4l1,-3.8l1,-2.3l1,-2.8l1,8.2l1,-1.8l1,-2.6l1,2.9l1,-4.4l1,6.4l1,0.1l1,0.4l1,-4.8l1,5.5l1,-1.7l1,2.2l1,-9.7l1,7.8l1,1.1l1,-4.7l1,3.7l1,-2.5l1,4l1,-5l1,0.8l1,-3.6l1,9.6l1,-8.5l1,-0.7l1,0.5l1,2.9l1,-0.1l1,1.1l1,3.4l1,-1.7l1,-7.2l1,4.8l1,-1l1,2.7l1,-1.8l1,3.5l1,-3.5l1,5.4l1,-8.6l1,6.3l1,-0.7l1,-4.9l1,-1.8l1,2l1,3.1l1,3.8l1,-9.2l1,3.5l1,-2.9l1,6l1,-1.8l1,-0.4l1,2.1l1,-1.3l1,3.5l1,-5.2l1,-0.9l1,1.8l1,-0.1l1,3.9l1,-5l1,-0.3l1,-0.5l1,-0.2l1,-3.6l1,6.2l1,1.1l1,-1l1,-2.7l1,4.9l1,-0.6l1,-1.3l1,1.1l1,-2.1l1,1.5l1,0.4l1,-5.2l1,2.1l1,-0.6l1,3.3l1,-8.8l1,8.4l1,-0.8l1,-0.5l1,1.7l1,-5.5l1,5l1,-2.9l1,0.4l1,5.9l1,-5l1,4l1,-3.2l1,-0.7l1,-0.3l1,-3.1l1,3.2l1,1.5l1,3.7l1,-2l1,0.3l1,-5.2l1,0.6l1,3.2l1,0.4l1,-4.6l1,6.1l1,-4.9l1,2.6l1,-2.2l1,3.5l1,0.4l1,0.3l1,-5.6l1,2.9l1,6l1,-6.6l1,1.1l1,-1.3l1,-2.2l1,5.8l1,-1.3l1,-8l1,0.9l1,-0.6l1,-11.5l1,-7.9l0.2,-0.6l0.8,6.2l1,2.2l1,6.9l1,10.2l1,-4.4l1,2.6l1,-1l1,7.9l1,-8.8l1,4.3l1,-1.4l1,0.4l1,-2.6l1,1.3l1,1.8l1,1.4l1,-6l1,5.6l1,-2.7l1,2.4l1,-1.1l1,1l1,-0.4l1,2.1l1,-1.3l1,-4.9l1,-2.1l1,2.8l1,5.1l1,-5.7l1,1.9l1,8.3l1,-6.4l1,0.5l1,1.6l1,0.9l1,-3.4l1,1.9l1,-6.3l1,6.9l1,0.8l1,-6.7l1,7.6l1,2.9l1,-12.9l1,6.8l1,4.7l1,-2.1l1,-4l1,0.2l1,0.7l1,3.1l1,-4.5l1,-1.8l1,4.7l1,-2.7l1,7.1l1,-7.9l1,3.8l1,-1.4l1,-3.7l1,2.8l1,-4.3l1,6.9l1,-3.9l1,-0.9l1,-1l1,8.7l1,-2.6l1,-4.4l1,2.4l1,2.3l1,-0.2l1,-1.6l1,-6.1l1,10.9l1,-5.3l1,4.4l1,-7.8l1,6.1l1,1.5l1,-0.5l1,-6.9l1,2.8l1,5.2l1,-6.9l1,4.4l1,-2.5l1,-3.9l1,7.1l1,0.4l1,-1.3l1,-1.1l1,2.1l1,-8.7l1,5.7l1,5.1l1,-3.6l1,1.7l1,-3.9l1,1.7l1,-4.4l1,4.9l1,-0.7l1,-1.9l1,1l1,0.3l1,0.3l1,1.7l1,0.7l1,-9.2l1,6.9l1,2.6l1,-6.7l1,2.9l1,7.4l1,-8.8l1,4.7l1,-2.2l1,-4.9l1,3.4l1,-4.5l1,4.2l1,3.7l1,-0.8l1,-1l1,-2.4l1,3.4l1,1.7l1,-1.4l1,0.6l1,-1.5l1,0l1,-3.9l1,6.9l1,-7.4l1,0.4l1,0.5l1,0l1,5.9l1,-4.4l1,-0.2l1,-0.1l1,0.8l1,3.8l1,0.5l1,-5.5l1,6.2" stroke="#ff0000"/>
<path class="c" d="M171.0,1074.1l1,1.1l1,-2l1,1.8l1,-1.1l1,0l1,2l1,-1.5l1,-0.2l1,0.8l1,0.4l1,-1l1,0.5l1,-1.3l1,0.6l1,-0.1l1,-0.7l1,-0.2l1,0l1,1.3l1,0l1,0l1,0.3l1,-1.2l1,1.2l1,0.3l1,0.5l1,-1.4l1,0.4l1,-1.4l1,1.4l1,-1.5l1,0.8l1,2.2l1,-2.9l1,2.7l1,-0.3l1,-0.6l1,0.7l1,0.1l1,0.5l1,-1.1l1,-0.2l1,0l1,-0.3l1,0.8l1,-0.6l1,1.7l1,-2.6l1,0.8l1,0.1l1,-1l1,3.6l1,-3.8l1,2l1,-0.2l1,1.9l1,-3.2l1,2.8l1,-1.6l1,0.6l1,-0.4l1,1.2l1,-1.6l1,1l1,0.4l1,1.4l1,-3.8l1,3.6l1,-0.5l1,-1.3l1,0.8l1,-0.7l1,1.9l1,-1.2l1,-0.3l1,0l1,0l1,0.1l1,-0.6l1,2.6l1,-3.4l1,-1.5l1,3.1l1,0l1,0.5l1,-0.4l1,0.1l1,0.4l1,0.6l1,-1.2l1,0.1l1,2.1l1,-1.2l1,-1.3l1,3l1,-1.3l1,-1.2l1,-0.5l1,1.4l1,-1l1,-0.1l1,-0.2l1,0.7l1,1.5l1,-1.3l1,-0.9l1,1.9l1,-0.4l1,0.7l1,0.3l1,-1.1l1,0.1l1,0.1l1,-0.9l1,1.6l1,0.7l1,-1.1l1,-0.3l1,0.1l1,-0.5l1,0.1l1,0.4l1,-0.4l1,0.4l1,-0.9l1,1.7l1,-0.2l1,-1l1,-1l1,2.1l1,1l1,-1.6l1,0.3l1,-0.1l1,1.2l1,-1.4l1,1.7l1,-1l1,1.1l1,-0.8l1,-0.2l1,-1l1,0.7l1,0.4l1,0.9l1,-0.3l1,-0.8l1,1l1,0.6l1,-1l1,-0.2l1,0.1l1,1.1l1,-0.2l1,-1.3l1,1.2l1,-0.7l1,-0.2l1,1.8l1,-0.3l1,-1.3l1,0.7l1,0.4l1,-0.9l1,0.5l1,0.7l1,-2.1l1,1.9l1,0.4l1,-0.1l1,-1.6l1,1.5l1,-1l1,1.3l1,0.1l1,-0.3l1,-0.8l1,0.2l1,1.2l1,-1.4l1,1.2l1,0.1l1,-0.7l1,2.3l1,-1.9l1,1.8l1,-3.6l1,-0.2l1,2.8l1,-0.2l1,-0.8l1,0.2l1,-1.5l1,1.1l1,-0.3l1,0.7l1,1l1,-0.7l1,0.3l1,-0.9l1,0.2l1,0.5l1,-0.3l1,1.4l1,-1.9l1,2.4l1,-2.4l1,1.8l1,-1.6l1,2.1l1,-1.2l1,0.2l1,0.3l1,-1.1l1,-0.4l1,-0.8l1,2.8l1,-1.6l1,0.1l1,0.5l1,1.8l1,-3.2l1,1.8l1,-0.6l1,0.9l1,-2l1,1.2l1,1.1l1,0.6l1,0.1l1,-2.1l1,0.8l1,-0.1l1,-1.1l1,0l1,1.9l1,-0.4l1,-0.3l1,1.2l1,-1.9l1,1.3l1,-0.4l1,0l1,0.5l1,-0.3l1,0.1l1,0.1l1,1.4l1,-1.9l1,1.2l1,-0.3l1,-0.8l1,1l1,-1.4l1,1.7l1,-1.6l1,0.3l1,0.7l1,0.5l1,0l1,0.1l1,-1l1,-0.6l1,1.3l1,-0.2l1,-1l1,1.7l1,-0.7l1,-0.9l1,1.2l1,-1.5l1,0.4l1,1.1l1,-1.6l1,1.4l1,-1.2l1,1.8l1,-1.2l1,0.8l1,-1.5l1,1l1,1.1l1,-0.4l1,-1.9l1,2.3l1,0l1,-1.1l1,1.6l1,-2.1l1,0.8l1,1l1,0.2l1,0l1,-2l1,-0.6l1,1.9l1,-1.6l1,1.1l1,-0.9l1,2l1,-0.3l1,-0.2l1,-0.4l1,0l1,-0.3l1,0.6l1,-0.1l1,0.2l1,-0.7l1,1.9l1,-1.3l1,0.9l1,0l1,-1.9l1,-0.7l1,2.5l1,-1.3l1,0.4l1,-0.3l1,0.3l1,-1.1l1,0.9l1,-0.3l1,0.4l1,-1.9l1,2.6l1,-0.4l1,-1.7l1,0.9l1,0.6l1,0.5l1,-0.5l1,1.2l1,-1.2l1,-0.8l1,0.3l1,1.1l1,-1.1l1,1.2l1,0.2l1,-0.4l1,0.4l1,-1l1,0.2l1,-0.5l1,0l1,-0.8l1,0.8l1,-0.4l1,-0.3l1,1.3l1,0.3l1,-0.6l1,1.4l1,-0.4l1,0.1l1,-1.3l1,-0.8l1,1.7l1,-0.2l1,0.4l1,-0.3l1,0.8l1,-1.3l1,0.8l1,-1.3l1,-1.2l1,1.6l1,1.6l1,-2.6l1,2.2l1,-1.4l1,0.2l1,0.4l1,0.2l1,-1l1,1l1,0.2l1,0.4l1,-1.3l1,1.9l1,0.3l1,0.5l1,-3.1l1,1.3l1,-1.7l1,1.9l1,0.1l1,-1.3l1,-0.4l1,1.5l1,0.4l1,-1.2l1,0.5l1,-1.9l1,1.6l1,0.7l1,0l1,1.2l1,-2.2l1,-0.9l1,2.2l1,-0.8l1,0.7l1,0.4l1,-0.1l1,0.7l1,0l1,-2.5l1,1.4l1,1.7l1,-2l1,1.2l1,-0.9l1,-0.2l1,1.6l1,-0.4l1,-1l1,0.9l1,-1.8l1,0.5l1,1.4l1,-0.7l1,-0.9l1,1.3l1,-0.1l1,0.8l1,-0.3l1,-1l1,-0.1l1,0.3l1,-0.1l1,1.4l1,0.1l1,-0.2l1,-0.8l1,-0.5l1,1l1,-1.1l1,0.5l1,-1.5l1,1l1,1.5l1,-2.1l1,-0.4l1,1.1l1,1.4l1,-0.2l1,-1.6l1,-0.2l1,0.2l1,-0.9l1,0.6l1,-0.6l1,-1.3l1,0.3l1,-0.2l1,-0.8l1,-0.4l1,1.8l1,1.2l1,-1.3l1,0.4l1,1.1l1,-0.2l1,-0.2l1,1.9l1,-1.8l1,0.4l1,0.1l1,-0.1l1,0.5l1,0.6l1,0.4l1,-1.4l1,-2.4l1,-3.3l1,3.3l1,1.3l1,1.5l1,1.3l1,-0.4l1,-0.2l1,-0.4l1,0.7l1,0.2l1,-0.8l1,0.4l1,1.1l1,-2l1,1l1,-0.5l1,2.2l1,-0.8l1,0l1,-0.1l1,0l1,0l1,-1.5l1,1.5l1,0.3l1,-1.6l1,1.8l1,-0.1l1,-1.7l1,0.9l1,0.1l1,-0.1l1,0.7l1,-1.3l1,0.9l1,0.3l1,0.5l1,-0.6l1,-0.2l1,0.7l1,-2.1l1,2.3l1,-0.9l1,-0.8l1,0.7l1,-1.2l1,-0.1l1,1.3l1,-0.3l1,1.2l1,-1.4l1,-0.3l1,0.3l1,2.1l1,-1.4l1,-0.6l1,-0.4l1,-0.2l1,0.6l1,0.3l1,0.2l1,-0.7l1,-2.1l1,-3.9l1,-7.5l0.8,-4.5l0.2,-0.4l1,9.5l1,4.8l1,2.8l1,-0.4l1,2.4l1,-0.2l1,0l1,0.5l1,-2.1l1,1.5l1,-0.3l1,2.2l1,-1.5l1,-0.2l1,1.1l1,-1.5l1,1.9l1,-1.6l1,0.5l1,-0.7l1,1.4l1,-2.4l1,2.3l1,-1.2l1,0.7l1,-0.9l1,1.1l1,-0.1l1,0.4l1,-0.3l1,0.3l1,0.3l1,-1.1l1,-0.7l1,0l1,1.5l1,-0.8l1,1.1l1,-0.8l1,-0.9l1,1.5l1,0.8l1,-1.7l1,-0.6l1,0.1l1,1.3l1,-1.1l1,0.1l1,0.8l1,-0.6l1,0.1l1,-0.6l1,-0.1l1,0.6l1,-0.1l1,0.2l1,-0.9l1,0.5l1,0l1,-0.5l1,0.1l1,0.1l1,-0.9l1,-0.6l1,-1.3l1,0.3l1,-1.3l1,-1.5l1,-2.3l1,-1.8l1,-3.1l1,-9.7l1,-15.8l1,-33.7l1,-79l1,-82.7l0,0l1,82.7l1,78.9l1,34l1,15.3l1,7.5l1,5.5l1,1.9l1,3.3l1,0.5l1,1.3l1,1.3l1,0.4l1,-1l1,1.2l1,0.7l1,-0.9l1,-0.8l1,2l1,0.2l1,0.5l1,-0.2l1,0.1l1,0.2l1,1l1,-0.7l1,0.1l1,-0.6l1,1.2l1,-1l1,0.8l1,-2.2l1,1.9l1,-0.2l1,-0.3l1,1.4l1,-0.7l1,-0.4l1,-0.2l1,1.9l1,-0.9l1,0l1,-1.1l1,1.6l1,-0.5l1,-0.7l1,0.2l1,-1.2l1,1.8l1,-1.3l1,1.5l1,-1l1,-0.1l1,0.8l1,-0.1l1,-1l1,0.8l1,0.6l1,-0.7l1,-0.8l1,0.9l1,-0.6l1,0.3l1,0.5l1,0l1,-0.1l1,-1.1l1,1.5l1,-0.4l1,-0.1l1,0.4l1,1.4l1,-2.5l1,-0.2l1,1.8l1,-1.1l1,1.6l1,-1.8l1,0.4l1,1.1l1,0l1,-0.3l1,0l1,-0.4l1,-0.2l1,0.2l1,1.1l1,-0.4l1,-0.5l1,0.2l1,0.4l1,0.3l1,-1l1,0.1l1,0.3l1,1.7l1,-1.8l1,0.8l1,-2.1l1,1.9l1,-1.8l1,0.3l1,0.4l1,0.3l1,0.3l1,0.2l1,-0.1l1,-0.5l1,2.3l1,-1.7l1,0.3l1,1l1,-0.8l1,-0.3l1,-0.2l1,1.2l1,-2.2l1,0.1l1,0.9l1,-1.7l1,1l1,1.4l1,-1.1l1,0.4l1,0.5l1,-1.4l1,1.1l1,-0.7l1,-0.3l1,0.6l1,0.2l1,-0.3l1,-0.2l1,1.3l1,0.1l1,-0.4l1,-0.5l1,-0.7l1,0.2l1,-0.2l1,1l1,0.5l1,0l1,-0.7l1,-0.2l1,0.4l1,0l1,0.3l1,0.7l1,-1.6l1,2.1l1,-3.2l1,0.3l1,0.2l1,0.4l1,0.6l1,1.7l1,-2.1l1,1.4l1,-1.1l1,0.4l1,-0.9l1,2.5l1,-1.7l1,-0.5l1,2.2l1,-1.5l1,0.1l1,-0.4l1,-0.5l1,-0.4l1,0.9l1,1.4l1,-0.9l1,-0.5l1,1l1,-1.5l1,1.7l1,-1l1,-0.6l1,1.1l1,-0.1l1,-0.6l1,0.4l1,0.6l1,0.3l1,-1.7l1,-1.3l1,3.5l1,-1.7l1,-0.1l1,0.6l1,-0.6l1,1.1l1,-1.7l1,0.8l1,-0.8l1,2.1l1,-1.3l1,1l1,0.2l1,-1.9l1,0.7l1,0.7l1,-0.5l1,-0.1l1,0.8l1,0l1,-1.1l1,0.3l1,0.6l1,-0.3l1,0l1,-1l1,2.2l1,-1.5l1,0.4l1,-0.2l1,0.1l1,0l1,-0.7l1,0.9l1,0.6l1,-0.5l1,0.2l1,-0.2l1,-0.3l1,1.3l1,-1.8l1,0.8l1,0.5l1,-0.6l1,-1l1,0l1,2l1,-1.9l1,0.8l1,0.4l1,-0.4l1,-1.3l1,-0.1l1,1.3l1,-0.5l1,0.4l1,0.3l1,0l1,-1.1l1,-0.2l1,1.9l1,-1.1l1,-0.4l1,-0.6l1,1.9l1,-1.3l1,0.1l1,1.3l1,-0.3l1,0.2l1,-1.3l1,-1.2l1,1.4l1,0.5l1,-0.2l1,1.1l1,-0.4l1,-1l1,1.2l1,-0.5l1,-0.3l1,1.2l1,-2l1,2l1,0l1,-2.3l1,1.4l1,0l1,-0.7l1,0.4l1,-0.1l1,0.6l1,-0.4l1,-1.2l1,2.5l1,-0.2l1,-1.3l1,1.3l1,0.8l1,-2.6l1,0.8l1,0l1,0.8l1,-0.7l1,-0.8l1,2l1,-1.1l1,0.7l1,1.2l1,-2.2l1,0.2l1,1l1,-0.7l1,0.4l1,-0.4l1,2.1l1,-1.6l1,-0.2l1,-0.1l1,0.2l1,-1.5l1,1l1,0.8l1,-1.5l1,1l1,-0.1l1,-0.3l1,2.2l1,-1.3l1,-0.3l1,-0.8l1,0.6l1,-0.2l1,0.1l1,0.2l1,1.7l1,-0.8l1,0.3l1,-0.3l1,1.1l1,-2.6l1,-0.4l1,1.1l1,0l1,-0.1l1,-0.5l1,1l1,0.7l1,-1.1l1,-0.3l1,1l1,-1.1l1,0l1,0.5l1,-1.9l1,3l1,-1.4l1,0.4l1,-0.1l1,0l1,-1.3l1,2.3l1,-0.9l1,-0.3l1,2.1l1,-3.3l1,1.3l1,-0.7l1,-1.2l1,2.2l1,-3.1l1,0.4l1,-1.8l1,-3.1l1,-7.8l1,-4.8l0,-1l1,5.6l1,7l1,4.5l1,0.5l1,2l1,0.5l1,-0.4l1,-0.7l1,0.6l1,1.3l1,-0.5l1,1.7l1,-1.6l1,0.7l1,0.2l1,-0.4l1,0.2l1,0.6l1,-0.9l1,0.4l1,-0.5l1,1.8l1,-1.4l1,0.5l1,-2.7l1,1.8l1,-0.4l1,0.8l1,-0.3l1,-0.5l1,0.6l1,0.8l1,0.2l1,-1.1l1,1.1l1,-1.2l1,0.9l1,-1l1,1.4l1,0.9l1,-1.9l1,1.1l1,-1.9l1,0.6l1,2.4l1,-2l1,0.4l1,-1.5l1,1.2l1,-0.6l1,1.5l1,-1.3l1,2.2l1,-2.6l1,1.1l1,-1.7l1,1.2l1,1.1l1,-0.9l1,-0.9l1,1.3l1,0.4l1,-0.4l1,0.4l1,-1.7l1,2.3l1,-0.8l1,-2l1,2.9l1,-1.7l1,0.7l1,-1.8l1,1l1,-0.8l1,1.9l1,-0.8l1,-0.5l1,0.4l1,1.1l1,-1.3l1,0.9l1,-1.2l1,-0.3l1,0.8l1,0.2l1,0.3l1,0.6l1,-1l1,0l1,0.8l1,-0.2l1,-0.3l1,0.2l1,-1.8l1,1.2l1,-0.7l1,0.9l1,0.9l1,-1.9l1,1.9l1,-1.1l1,0.3l1,-0.2l1,0.8l1,-0.9l1,-1l1,1.7l1,-0.4l1,0.6l1,0l1,-1.3l1,1l1,-0.1l1,-0.1l1,0.1l1,0.2l1,-0.6l1,0.3l1,0.8l1,-1.5l1,0.7l1,-0.6l1,-0.1l1,0.5l1,0.4l1,1l1,-1.3l1,0.8l1,-0.2l1,-0.4l1,-2.2l1,2.3l1,-0.1l1,-0.7l1,0.8l1,0.9l1,-1.8l1,0.4l1,1l1,-1.9l1,0.6l1,0.9l1,0.4l1,0.2l1,-0.4l1,1.1l1,-1.4l1,-1.3l1,0.5l1,0l1,-1.2l1,-1.8l1,2.6l1,-0.1l1,0.7l1,1.3l1,-1l1,-0.3l1,0.4l1,-0.4l1,2l1,-0.9l1,0.1l1,-1.1l1,0l1,0.6l1,-1.7l1,2.3l1,-1.6l1,1l1,0.1l1,-0.8l1,0.8l1,0.3l1,0.8l1,-1l1,1l1,-1l1,-0.4l1,0.7l1,-0.9l1,0.4l1,0.4l1,0.3l1,-0.6l1,-1.2l1,1.9l1,-0.7l1,-0.4l1,-0.3l1,1l1,-0.2l1,0.2l1,-0.5l1,1.1l1,-1.2l1,0.5l1,-0.2l1,0.6l1,-1.2l1,0.3l1,0l1,-0.3l1,0l1,-0.3l1,1.3l1,0.5l1,-1.7l1,1.2l1,-1.3l1,0.2l1,0.4l1,0.3l1,0.2l1,-1.6l1,0.4l1,1l1,-0.2l1,1.6l1,-1.7l1,-0.2l1,1.3l1,-2.7l1,0.6l1,3.1l1,-2.3l1,0.5l1,-0.2l1,-0.5l1,0.6l1,-0.8l1,1.5l1,-0.1l1,-0.1l1,-1.1l1,-0.7l1,1l1,-0.4l1,1l1,-1.3l1,0.4l1,0.8l1,0.2l1,-0.2l1,-1l1,0.4l1,1.9l1,-0.8l1,-1.2l1,1.9l1,-1.4l1,0.1l1,-0.6l1,1.6l1,-0.9l1,-0.1l1,-0.6l1,-0.3l1,1l1,-0.1l1,1.1l1,-1.7l1,0.4l1,0.9l1,-0.1l1,-1l1,1.4l1,-0.6l1,0.3l1,-0.4l1,0.4l1,-0.9l1,0.1l1,0.9l1,-0.5l1,0l1,0.5l1,-0.6l1,0.1l1,-1.7l1,1.1l1,0.9l1,-1.1l1,0.4l1,0.3l1,-0.2l1,0.7l1,-0.3l1,-0.5l1,0.9l1,-1l1,-0.2l1,0.7l1,0.2l1,-0.5l1,-0.7l1,0.4l1,0.5l1,0.3l1,0.7l1,-1.3l1,0l1,-1.3l1,2.3l1,-0.3l1,-0.6l1,-0.5l1,-1.3l1,2.2l1,-1l1,1.5l1,-0.5l1,0.3l1,-1l1,0.8l1,-1.8l1,1.8l1,-1.1l1,-1l1,0.3l1,-0.7l1,0.3l1,-1.6l1,-1.8l1,-2l1,-5.3l1,-10.3l1,-8.6l0,-0.5l1,9.3l1,11.3l1,2.7l1,4.3l1,2.1l1,-0.7l1,1.3l1,0.7l1,-1l1,0.9l1,0.9l1,-0.5l1,1.3l1,0.6l1,-1.5l1,-0.7l1,0.8l1,-0.4l1,-0.5l1,0.7l1,0l1,0.1l1,0.8l1,0.2l1,-0.5l1,-0.5l1,0.6l1,-0.3l1,0.1l1,-0.7l1,-1.4l1,2.6l1,-1l1,0.1l1,0.3l1,0l1,-0.1l1,1.2l1,-0.9l1,0l1,-0.7l1,0.5l1,0.4l1,-0.4l1,0.3l1,-0.8l1,0.9l1,-1l1,0.4l1,-0.2l1,0.6l1,0.6l1,-0.5l1,-0.7l1,0.6l1,0.6l1,-0.2l1,-0.1l1,-1.1l1,0.4l1,-0.1l1,0.1l1,0.5l1,-0.1l1,-0.3l1,0.6l1,-0.8l1,0.3l1,0.3l1,-1l1,0.3l1,-0.3l1,0.2l1,0.6l1,0l1,0.3l1,0l1,-0.9l1,1.9l1,-0.3l1,-1.7l1,0.4l1,0.1l1,0.5l1,0.2l1,-0.4l1,-1.6l1,3.5l1,-1.3l1,0l1,-1l1,0.5l1,0.6l1,-1l1,1.1l1,-0.7l1,1l1,-1l1,0.9l1,-2l1,2l1,-0.6l1,-0.6l1,1l1,-0.9l1,0.7l1,0.1l1,0.1l1,0.7l1,-0.5l1,0.7l1,-1.1l1,-0.4l1,0.2l1,-0.3l1,-0.8l1,0.9l1,-0.8l1,0.5l1,0l1,-0.1l1,-0.4l1,0.8l1,-0.1l1,0.9l1,-0.4l1,0.2l1,-1l1,0.2l1,-0.7l1,0.3l1,1l1,-0.6l1,0.1l1,-0.3l1,1.4l1,-1.1l1,0.8l1,-0.7l1,0.6l1,-1.2l1,-0.3l1,1.6l1,-0.9l1,0.4l1,0.4l1,-0.2" stroke="#008000"/>
<g fill="#000" filter="url(#bw)">
<rect x="777.0" y="1124.7" width="13.3" height="110.3" rx="2"/>
<rect x="1142.0" y="1211.8" width="14.0" height="23.2" rx="2"/>
<rect x="1468.7" y="1195.0" width="13.3" height="40.0" rx="2"/>
<rect x="323.5" y="1344.5" width="13.5" height="13.5" rx="2"/>
<rect x="525.2" y="1322.0" width="13.7" height="36.0" rx="2"/>
<rect x="620.0" y="1248.8" width="13.9" height="109.2" rx="2"/>
<rect x="645.9" y="1344.0" width="12.9" height="14.0" rx="2"/>
<rect x="753.1" y="1331.0" width="13.7" height="27.0" rx="2"/>
<rect x="822.0" y="1353.2" width="14.0" height="4.8" rx="2"/>
<rect x="934.0" y="1344.0" width="14.0" height="14.0" rx="2"/>
<rect x="998.0" y="1327.0" width="14.0" height="31.0" rx="2"/>
<rect x="1097.2" y="1305.2" width="13.8" height="52.8" rx="2"/>
<rect x="1157.0" y="1353.2" width="13.8" height="4.8" rx="2"/>
<rect x="1174.7" y="1353.2" width="13.3" height="4.8" rx="2"/>
<rect x="1252.0" y="1348.1" width="13.2" height="9.9" rx="2"/>
<rect x="1308.2" y="1344.2" width="13.8" height="13.8" rx="2"/>
<rect x="1329.9" y="1348.0" width="13.1" height="10.0" rx="2"/>
<rect x="1407.2" y="1348.0" width="12.8" height="10.0" rx="2"/>
<rect x="1462.6" y="1353.4" width="13.2" height="4.6" rx="2"/>
<rect x="1562.0" y="1348.0" width="12.8" height="10.0" rx="2"/>
<rect x="196.9" y="1473.2" width="14.0" height="9.8" rx="1.5"/>
<rect x="223.0" y="1473.2" width="14.0" height="9.8" rx="1.5"/>
<rect x="249.0" y="1478.0" width="35.2" height="5.0" rx="1.5"/>
<rect x="261.7" y="1473.2" width="13.3" height="9.8" rx="1.5"/>
<rect x="292.3" y="1478.0" width="12.7" height="5.0" rx="1.5"/>
<rect x="309.0" y="1478.0" width="14.0" height="5.0" rx="1.5"/>
<rect x="322.0" y="1473.2" width="13.5" height="9.8" rx="1.5"/>
<rect x="360.6" y="1478.0" width="27.9" height="5.0" rx="1.5"/>
<rect x="391.0" y="1478.0" width="242.2" height="5.0" rx="1.5"/>
<rect x="412.8" y="1473.2" width="13.5" height="9.8" rx="1.5"/>
<rect x="450.8" y="1473.2" width="18.0" height="9.8" rx="1.5"/>
<rect x="525.2" y="1438.9" width="12.8" height="44.1" rx="1.5"/>
<rect x="588.8" y="1473.2" width="13.2" height="9.8" rx="1.5"/>
<rect x="615.2" y="1409.0" width="13.8" height="74.0" rx="1.5"/>
<rect x="619.5" y="1370.0" width="13.7" height="113.0" rx="1.5"/>
<rect x="641.0" y="1478.0" width="22.0" height="5.0" rx="1.5"/>
<rect x="645.0" y="1469.0" width="13.4" height="14.0" rx="1.5"/>
<rect x="666.0" y="1478.0" width="283.8" height="5.0" rx="1.5"/>
<rect x="748.0" y="1469.0" width="14.0" height="14.0" rx="1.5"/>
<rect x="752.0" y="1460.0" width="14.0" height="23.0" rx="1.5"/>
<rect x="933.4" y="1468.5" width="13.6" height="14.5" rx="1.5"/>
<rect x="937.0" y="1465.2" width="12.8" height="17.8" rx="1.5"/>
<rect x="954.0" y="1478.0" width="671.6" height="5.0" rx="1.5"/>
<rect x="993.0" y="1465.0" width="14.0" height="18.0" rx="1.5"/>
<rect x="997.0" y="1448.0" width="13.7" height="35.0" rx="1.5"/>
<rect x="1100.2" y="1430.0" width="13.6" height="53.0" rx="1.5"/>
<rect x="1251.0" y="1473.2" width="22.0" height="9.8" rx="1.5"/>
<rect x="1311.0" y="1473.2" width="14.0" height="9.8" rx="1.5"/>
<rect x="1315.2" y="1465.2" width="13.6" height="17.8" rx="1.5"/>
<rect x="1337.2" y="1473.2" width="12.8" height="9.8" rx="1.5"/>
<rect x="1410.2" y="1473.2" width="13.4" height="9.8" rx="1.5"/>
<rect x="1564.7" y="1473.2" width="17.1" height="9.8" rx="1.5"/>
</g>
<g fill="#000" shape-rendering="crispEdges">
<rect x="166" y="44" width="1466" height="6"/>
<rect x="166" y="1524" width="1466" height="5"/>
<rect x="166" y="44" width="5" height="1485"/>
<rect x="1627" y="44" width="5" height="1485"/>
<rect x="312" y="50" width="5" height="26"/>
<rect x="312" y="1497" width="5" height="27"/>
<rect x="604" y="50" width="6" height="26"/>
<rect x="604" y="1497" width="6" height="27"/>
<rect x="896" y="50" width="5" height="26"/>
<rect x="896" y="1497" width="5" height="27"/>
<rect x="1189" y="50" width="5" height="26"/>
<rect x="1189" y="1497" width="5" height="27"/>
<rect x="1481" y="50" width="5" height="26"/>
<rect x="1481" y="1497" width="5" height="27"/>
</g>
<g filter="url(#bw)">
<text><tspan font-size="79.5" x="271.6" y="1613.0" letter-spacing="1.26">20</tspan></text>
<text><tspan font-size="79.5" x="567.3" y="1613.0" letter-spacing="-1.12">40</tspan></text>
<text><tspan font-size="79.5" x="857.5" y="1613.0" letter-spacing="0.66">60</tspan></text>
<text><tspan font-size="79.5" x="1149.9" y="1613.0" letter-spacing="0.47">80</tspan></text>
<text><tspan font-size="79.5" x="1421.1" y="1613.0" letter-spacing="-0.75">100</tspan></text>
<text><tspan font-size="79.5" x="752.0" y="1708.7" textLength="40.5" lengthAdjust="spacingAndGlyphs">2</tspan><tspan font-size="73.4" x="799.0" y="1709.7" class="th" textLength="48.1" lengthAdjust="spacingAndGlyphs">θ</tspan> <tspan font-size="79.5" x="853.5" y="1708.7" letter-spacing="-0.61">(deg.)</tspan></text>
<text transform="translate(91.5,0) rotate(-90)"><tspan font-size="79.5" x="-1032.5" y="0.0" letter-spacing="-0.40">Intensity</tspan> <tspan font-size="79.5" x="-717.6" y="0.0" letter-spacing="-0.25">(a.u.)</tspan></text>
<text fill="#0000d8"><tspan font-size="78.5" x="937.9" y="195.6" letter-spacing="-0.79">Annealed</tspan> <tspan font-size="78.5" x="1270.8" letter-spacing="-0.54">sample</tspan> <tspan font-size="78.5" x="1521.2" textLength="55.3" lengthAdjust="spacingAndGlyphs">A</tspan></text>
<text fill="#0000d8"><tspan font-size="78.5" x="937.2" y="287.2" textLength="28.9" lengthAdjust="spacingAndGlyphs">(</tspan><tspan font-size="78.5" x="964.3" textLength="59.6" lengthAdjust="spacingAndGlyphs">H</tspan><tspan font-size="50" x="1021.5" y="307.2" textLength="26.0" lengthAdjust="spacingAndGlyphs">2</tspan> <tspan font-size="78.5" x="1087.0" y="287.2" letter-spacing="-1.13">350</tspan><tspan font-size="79" x="1204.5" y="288.4" textLength="78.2" lengthAdjust="spacingAndGlyphs">℃</tspan><tspan font-size="78.5" x="1281.9" y="287.2" textLength="28.6" lengthAdjust="spacingAndGlyphs">)</tspan></text>
<text fill="#ff0000"><tspan font-size="78.5" x="941.5" y="596.3" letter-spacing="-0.72">Annealed</tspan> <tspan font-size="78.5" x="1275.2" letter-spacing="-0.70">sample</tspan> <tspan font-size="78.5" x="1526.7" textLength="50.9" lengthAdjust="spacingAndGlyphs">B</tspan></text>
<text fill="#ff0000"><tspan font-size="78.5" x="940.8" y="687.2" textLength="28.9" lengthAdjust="spacingAndGlyphs">(</tspan><tspan font-size="78.5" x="968.4" textLength="54.5" lengthAdjust="spacingAndGlyphs">N</tspan><tspan font-size="50" x="1021.5" y="710.4" textLength="26.0" lengthAdjust="spacingAndGlyphs">2</tspan><tspan font-size="78.5" x="1047.8" y="687.2" textLength="26.8" lengthAdjust="spacingAndGlyphs">-</tspan><tspan font-size="78.5" x="1072.7" textLength="41.2" lengthAdjust="spacingAndGlyphs">5</tspan><tspan font-size="78.5" x="1110.0" textLength="89.6" lengthAdjust="spacingAndGlyphs">%</tspan><tspan font-size="78.5" x="1191.1" textLength="58.8" lengthAdjust="spacingAndGlyphs">H</tspan><tspan font-size="50" x="1247.4" y="710.4" textLength="26.0" lengthAdjust="spacingAndGlyphs">2</tspan> <tspan font-size="78.5" x="1314.6" y="687.2" letter-spacing="-1.11">450</tspan><tspan font-size="79" x="1430.6" y="688.4" textLength="78.0" lengthAdjust="spacingAndGlyphs">℃</tspan><tspan font-size="78.5" x="1508.3" y="687.2" textLength="28.6" lengthAdjust="spacingAndGlyphs">)</tspan></text>
<text fill="#008000"><tspan font-size="78.5" x="937.9" y="935.6" letter-spacing="-0.79">Annealed</tspan> <tspan font-size="78.5" x="1271.2" letter-spacing="-0.62">sample</tspan> <tspan font-size="78.5" x="1520.1" textLength="60.7" lengthAdjust="spacingAndGlyphs">C</tspan></text>
<text fill="#008000"><tspan font-size="78.5" x="937.2" y="1026.3" textLength="28.9" lengthAdjust="spacingAndGlyphs">(</tspan><tspan font-size="78.5" x="964.3" textLength="59.6" lengthAdjust="spacingAndGlyphs">H</tspan><tspan font-size="50" x="1021.5" y="1046.5" textLength="26.0" lengthAdjust="spacingAndGlyphs">2</tspan> <tspan font-size="78.5" x="1088.9" y="1026.3" letter-spacing="-1.51">400</tspan><tspan font-size="79" x="1204.5" y="1027.5" textLength="78.3" lengthAdjust="spacingAndGlyphs">℃</tspan><tspan font-size="78.5" x="1281.9" y="1026.3" textLength="28.6" lengthAdjust="spacingAndGlyphs">)</tspan></text>
<text><tspan font-size="60.5" x="222.2" y="1197.4" letter-spacing="-0.98">bcc</tspan> <tspan font-size="60.5" x="324.9" textLength="38.1" lengthAdjust="spacingAndGlyphs">F</tspan><tspan font-size="60.5" x="357.6" textLength="28.4" lengthAdjust="spacingAndGlyphs">e</tspan></text>
<text><tspan font-size="60.5" x="222.7" y="1304.2" textLength="38.7" lengthAdjust="spacingAndGlyphs">F</tspan><tspan font-size="60.5" x="261.0" textLength="28.8" lengthAdjust="spacingAndGlyphs">e</tspan><tspan font-size="40" x="286.2" y="1321.3" textLength="21.1" lengthAdjust="spacingAndGlyphs">3</tspan><tspan font-size="60.5" x="307.4" y="1304.2" textLength="50.0" lengthAdjust="spacingAndGlyphs">O</tspan><tspan font-size="40" x="356.1" y="1321.3" textLength="18.7" lengthAdjust="spacingAndGlyphs">4</tspan></text>
<text><tspan font-size="60.5" x="217.0" y="1424.1" textLength="32.0" lengthAdjust="spacingAndGlyphs">γ</tspan><tspan font-size="60.5" x="245.3" textLength="22.4" lengthAdjust="spacingAndGlyphs">-</tspan><tspan font-size="60.5" x="269.0" textLength="38.0" lengthAdjust="spacingAndGlyphs">F</tspan><tspan font-size="60.5" x="302.6" textLength="28.5" lengthAdjust="spacingAndGlyphs">e</tspan><tspan font-size="40" x="333.1" y="1437.3" textLength="20.8" lengthAdjust="spacingAndGlyphs">2</tspan><tspan font-size="60.5" x="353.8" y="1424.1" textLength="49.4" lengthAdjust="spacingAndGlyphs">O</tspan><tspan font-size="40" x="401.4" y="1437.5" textLength="20.0" lengthAdjust="spacingAndGlyphs">3</tspan></text>
</g>
</svg></body></html>
